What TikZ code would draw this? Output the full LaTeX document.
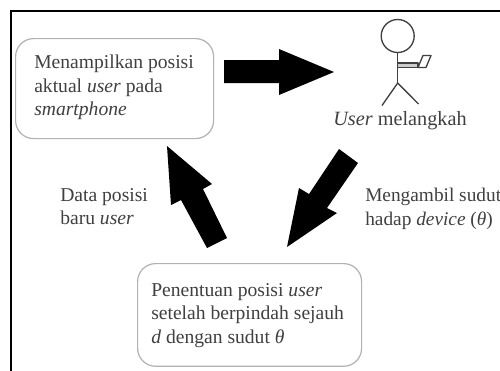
\documentclass[tikz,border=0pt]{standalone}
\usepackage{fontspec}
\setmainfont{Liberation Serif}
\tikzset{
  x=0.75pt,y=-0.75pt,
  box/.style={draw=black!30,line width=0.9pt,rounded corners=13.5pt,fill=white,inner sep=0pt,anchor=north west},
  lbl/.style={text=black!75,font=\fontsize{14.7}{17.6}\selectfont,align=left,anchor=north west,inner sep=0pt},
  fat/.style={fill=black,draw=none},
  fig/.style={draw=black!75,line width=1pt,line join=round}
}
\begin{document}
\begin{tikzpicture}
\useasboundingbox (0,0) rectangle (500,371);
\fill[white] (0,0) rectangle (500,371);
\draw[line width=1.7pt] (500,10.7) -- (10.7,10.7) -- (10.7,371);
\node[box,minimum width=148.5pt,minimum height=75pt] (show) at (15,38) {};
\node[box,minimum width=168pt,minimum height=77pt] (calc) at (137,263) {};
\node[lbl] (t1) at (34,55) {Menampilkan posisi\\aktual \textit{user} pada\\\textit{smartphone}};
\node[lbl] (t2) at (151,283) {Penentuan posisi \textit{user}\\setelah berpindah sejauh\\\textit{d} dengan sudut \textit{θ}};
\node[lbl] (t3) at (60,188) {Data posisi\\baru \textit{user}};
\node[lbl,font=\fontsize{14.5}{17.6}\selectfont] (t4) at (365,188) {Mengambil sudut\\hadap \textit{device} (\textit{θ})};
\node[lbl,font=\fontsize{15.2}{17.6}\selectfont] (t5) at (333,111) {\textit{User} melangkah};
\fill[fat] (224,60) -- (279,60) -- (279,49) -- (334,72) -- (279,95) -- (279,83) -- (224,83) -- cycle;
\fill[fat] (339,149) -- (358,163) -- (327,208) -- (337,213) -- (287,247) -- (299,188) -- (309,194) -- cycle;
\fill[fat] (227,238) -- (207,248) -- (181,200) -- (171,205) -- (167,146) -- (212,184) -- (203,189) -- cycle;
\draw[fig] (397.7,36) circle (16.5);
\draw[fig] (397.7,52.5) -- (397.7,83);
\draw[fig] (382,105.5) -- (397.7,83) -- (418.5,104);
\draw[fig,fill=black!20] (397.7,63) -- (418,63) -- (418,67.5) -- (397.7,67.5);
\draw[fig] (418,67.5) -- (423,55.5) -- (431,55.5) -- (426,67.5) -- cycle;
\end{tikzpicture}
\end{document}
